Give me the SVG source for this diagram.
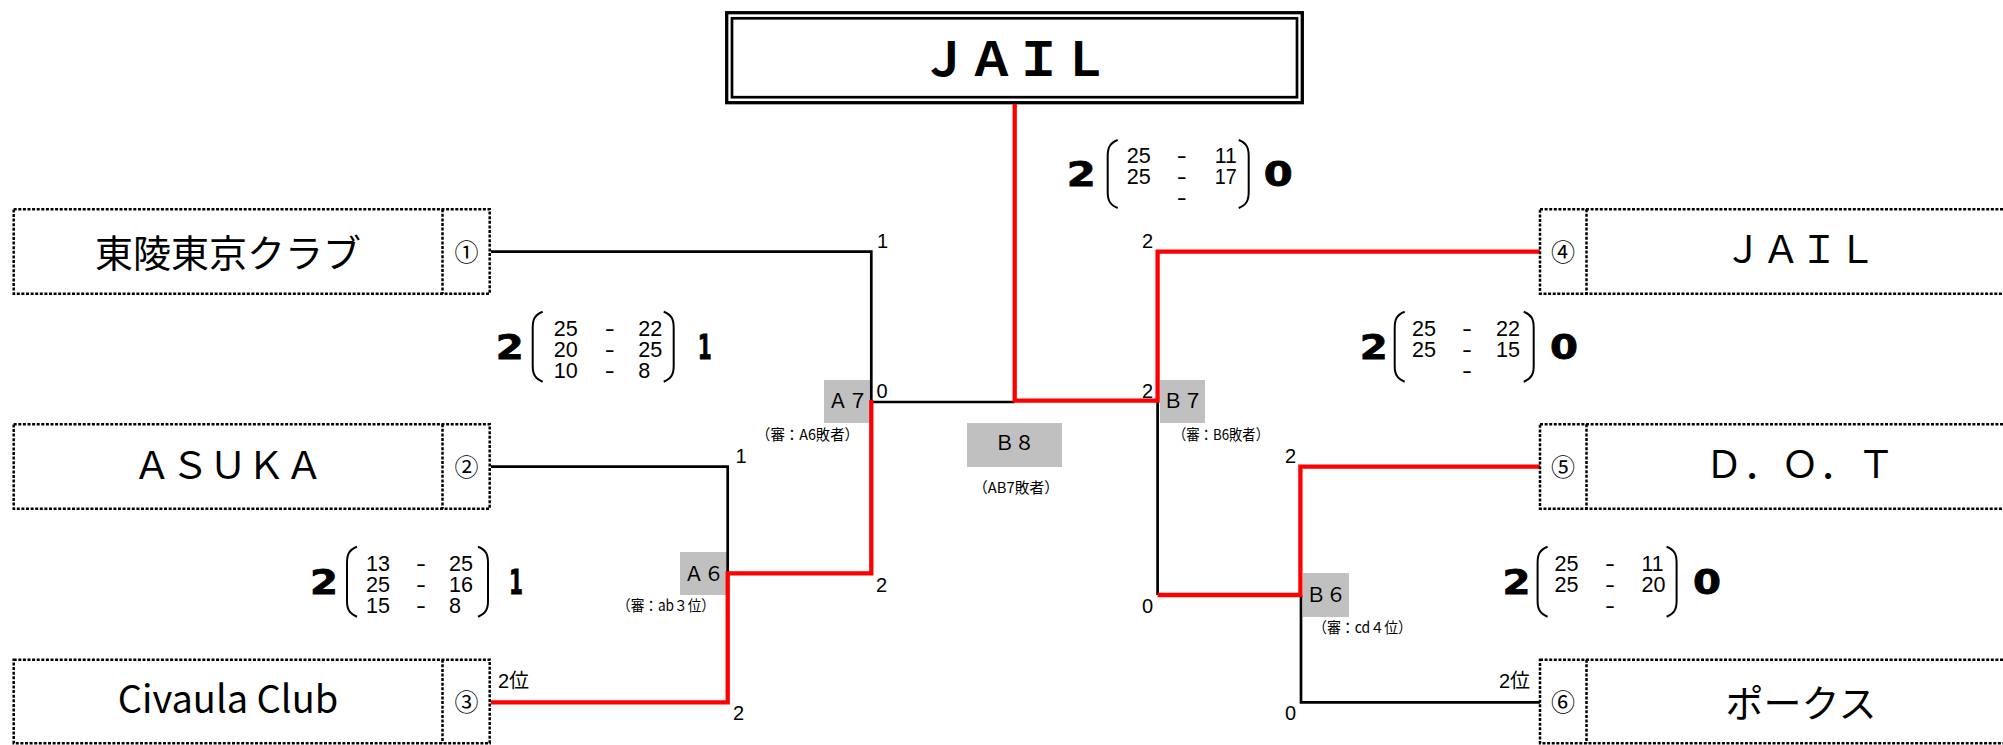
<svg xmlns="http://www.w3.org/2000/svg" width="2003" height="745" viewBox="0 0 2003 745">
<style>
.box{fill:none;stroke:#000;stroke-width:2.5;stroke-dasharray:3 1.6}
.name{font-family:"Noto Sans CJK JP","Noto Sans",sans-serif;font-size:38px;text-anchor:middle;fill:#000}
.title{font-family:"Noto Sans CJK JP","Noto Sans",sans-serif;font-size:47px;font-weight:bold;text-anchor:middle;fill:#000}
.cn{font-family:"Noto Sans CJK JP",sans-serif;font-size:24px;text-anchor:middle}
.lbl{font-family:"Liberation Sans",Arial,sans-serif;font-size:20px}
.pos{font-family:"Liberation Sans","Noto Sans CJK JP",sans-serif;font-size:20px}
.gray{fill:#c0c0c0}
.gt{font-family:"Noto Sans CJK JP",sans-serif;font-size:20px}
.ref{font-family:"Noto Sans CJK JP",sans-serif;font-size:15px}
.sc{font-family:"Liberation Sans",Arial,sans-serif;font-size:22px}
.dash{font-family:"Liberation Sans",Arial,sans-serif;font-size:22px}
.big{font-family:"DejaVu Sans",sans-serif;font-weight:bold;font-size:33px;stroke:#000;stroke-width:0.8}
.br{fill:none;stroke:#000;stroke-width:2}
.blk{fill:none;stroke:#000;stroke-width:2.7}
.red{fill:none;stroke:#ff0000;stroke-width:4.3}
</style>

<!-- champion -->
<g id="champion">
<rect x="726.7" y="12.7" width="575.6" height="90" fill="#fff" stroke="#000" stroke-width="3.3"/>
<rect x="732" y="18.3" width="565" height="78.9" fill="none" stroke="#000" stroke-width="2.7"/>
<text class="title" x="1015" y="76">ＪＡＩＬ</text>
</g>

<!-- gray match boxes -->
<g id="matchA7"><rect class="gray" x="824" y="380" width="46" height="43"/></g>
<g id="matchA6"><rect class="gray" x="680" y="552" width="47" height="43"/></g>
<g id="matchB7"><rect class="gray" x="1160" y="380" width="45" height="43"/></g>
<g id="matchB6"><rect class="gray" x="1303" y="573" width="46" height="44"/></g>
<g id="matchB8"><rect class="gray" x="967" y="423" width="95" height="44"/></g>

<!-- connectors -->
<g id="connectors">
<path class="blk" d="M491,251.7 H871.3 V402 H1014.7"/>
<path class="blk" d="M491,466.7 H727.7 V573.3"/>
<path class="blk" d="M1157.6,402 V595"/>
<path class="blk" d="M1301,595 V702.3 H1540"/>
<path class="red" d="M491,702.3 H727.7 V573.3 H871.3 V400"/>
<path class="red" d="M1014.7,104 V400.7 H1157.6 V251.7 H1540"/>
<path class="red" d="M1540,466.7 H1300.4 V595 H1157.6"/>
</g>

<!-- match labels -->
<g id="labels">
<text class="gt" x="828" y="408.3">Ａ７</text>
<text class="gt" x="684" y="580.5">Ａ６</text>
<text class="gt" x="1163" y="408.3">Ｂ７</text>
<text class="gt" x="1306" y="601.5">Ｂ６</text>
<text class="gt" x="994.5" y="450">Ｂ８</text>
<text class="ref" x="756" y="440" textLength="103" lengthAdjust="spacingAndGlyphs">（審：A6敗者）</text>
<text class="ref" x="617" y="611" textLength="98" lengthAdjust="spacingAndGlyphs">（審：ab３位）</text>
<text class="ref" x="1173" y="440" textLength="96" lengthAdjust="spacingAndGlyphs">（審：B6敗者）</text>
<text class="ref" x="1313" y="633" textLength="99" lengthAdjust="spacingAndGlyphs">（審：cd４位）</text>
<text class="ref" x="973" y="493" textLength="86" lengthAdjust="spacingAndGlyphs">（AB7敗者）</text>
<text class="lbl" x="877" y="248">1</text>
<text class="lbl" x="876.5" y="398.3">0</text>
<text class="lbl" x="735.5" y="463">1</text>
<text class="lbl" x="876" y="591.7">2</text>
<text class="lbl" x="733" y="720">2</text>
<text class="lbl" x="1142" y="248">2</text>
<text class="lbl" x="1142" y="398">2</text>
<text class="lbl" x="1142" y="613.3">0</text>
<text class="lbl" x="1285" y="463">2</text>
<text class="lbl" x="1285" y="720">0</text>
<text class="pos" x="498" y="688">2位</text>
<text class="pos" x="1499" y="688">2位</text>
</g>

<!-- teams left -->
<g id="team1">
<rect class="box" x="13.7" y="209.2" width="476" height="84.5"/>
<line class="box" x1="442.5" y1="209.2" x2="442.5" y2="293.7"/>
<text class="name" x="228" y="267">東陵東京クラブ</text>
<text class="cn" x="466.5" y="260.5">①</text>
</g>
<g id="team2">
<rect class="box" x="13.7" y="424.2" width="476" height="84.5"/>
<line class="box" x1="442.5" y1="424.2" x2="442.5" y2="508.7"/>
<text class="name" x="228" y="479">ＡＳＵＫＡ</text>
<text class="cn" x="466.5" y="475.5">②</text>
</g>
<g id="team3">
<rect class="box" x="13.7" y="659.7" width="476" height="83.5"/>
<line class="box" x1="442.5" y1="659.7" x2="442.5" y2="743.2"/>
<text class="name" x="228" y="713">Civaula Club</text>
<text class="cn" x="466.5" y="711">③</text>
</g>

<!-- teams right -->
<g id="team4">
<rect class="box" x="1540" y="209.2" width="490" height="84.5"/>
<line class="box" x1="1586.5" y1="209.2" x2="1586.5" y2="293.7"/>
<text class="name" x="1800" y="263">ＪＡＩＬ</text>
<text class="cn" x="1563" y="260.5">④</text>
</g>
<g id="team5">
<rect class="box" x="1540" y="424.2" width="490" height="84.5"/>
<line class="box" x1="1586.5" y1="424.2" x2="1586.5" y2="508.7"/>
<text class="name" x="1800" y="478">Ｄ．Ｏ．Ｔ</text>
<text class="cn" x="1563" y="475.5">⑤</text>
</g>
<g id="team6">
<rect class="box" x="1540" y="659.7" width="490" height="83.5"/>
<line class="box" x1="1586.5" y1="659.7" x2="1586.5" y2="743.2"/>
<text class="name" x="1801" y="717">ポークス</text>
<text class="cn" x="1563" y="711">⑥</text>
</g>

<!-- scores -->
<g id="scoreTL" transform="translate(531.7,311.7)">
<text class="big" x="-36" y="47" textLength="28" lengthAdjust="spacingAndGlyphs">2</text>
<path class="br" d="M11,0 C3,3 1,8 1,16 V54 C1,62 3,67 11,70"/>
<path class="br" d="M132,0 C140,3 142,8 142,16 V54 C142,62 140,67 132,70"/>
<text class="sc" x="22" y="24.5" textLength="24" lengthAdjust="spacingAndGlyphs">25</text><text class="dash" x="73" y="24.5" textLength="10" lengthAdjust="spacingAndGlyphs">-</text><text class="sc" x="106.6" y="24.5" textLength="24" lengthAdjust="spacingAndGlyphs">22</text>
<text class="sc" x="22" y="45.5" textLength="24" lengthAdjust="spacingAndGlyphs">20</text><text class="dash" x="73" y="45.5" textLength="10" lengthAdjust="spacingAndGlyphs">-</text><text class="sc" x="106.6" y="45.5" textLength="24" lengthAdjust="spacingAndGlyphs">25</text>
<text class="sc" x="22" y="66.5" textLength="24" lengthAdjust="spacingAndGlyphs">10</text><text class="dash" x="73" y="66.5" textLength="10" lengthAdjust="spacingAndGlyphs">-</text><text class="sc" x="106.6" y="66.5" textLength="12" lengthAdjust="spacingAndGlyphs">8</text>
<text class="big" x="166" y="47" textLength="14" lengthAdjust="spacingAndGlyphs">1</text>
</g>
<g id="scoreBL" transform="translate(346,546.7)">
<text class="big" x="-36" y="47" textLength="28" lengthAdjust="spacingAndGlyphs">2</text>
<path class="br" d="M11,0 C3,3 1,8 1,16 V54 C1,62 3,67 11,70"/>
<path class="br" d="M132,0 C140,3 142,8 142,16 V54 C142,62 140,67 132,70"/>
<text class="sc" x="20" y="24.5" textLength="24" lengthAdjust="spacingAndGlyphs">13</text><text class="dash" x="70" y="24.5" textLength="10" lengthAdjust="spacingAndGlyphs">-</text><text class="sc" x="103" y="24.5" textLength="24" lengthAdjust="spacingAndGlyphs">25</text>
<text class="sc" x="20" y="45.5" textLength="24" lengthAdjust="spacingAndGlyphs">25</text><text class="dash" x="70" y="45.5" textLength="10" lengthAdjust="spacingAndGlyphs">-</text><text class="sc" x="103" y="45.5" textLength="24" lengthAdjust="spacingAndGlyphs">16</text>
<text class="sc" x="20" y="66.5" textLength="24" lengthAdjust="spacingAndGlyphs">15</text><text class="dash" x="70" y="66.5" textLength="10" lengthAdjust="spacingAndGlyphs">-</text><text class="sc" x="103" y="66.5" textLength="12" lengthAdjust="spacingAndGlyphs">8</text>
<text class="big" x="163" y="47" textLength="14" lengthAdjust="spacingAndGlyphs">1</text>
</g>
<g id="scoreTop" transform="translate(1106.7,140)">
<text class="big" x="-40" y="46" textLength="29" lengthAdjust="spacingAndGlyphs">2</text>
<path class="br" d="M11,0 C3,3 1,8 1,16 V52 C1,60 3,65 11,68"/>
<path class="br" d="M132,0 C140,3 142,8 142,16 V52 C142,60 140,65 132,68"/>
<text class="sc" x="20" y="23" textLength="24" lengthAdjust="spacingAndGlyphs">25</text><text class="dash" x="70" y="23" textLength="10" lengthAdjust="spacingAndGlyphs">-</text><text class="sc" x="108" y="23" textLength="22" lengthAdjust="spacingAndGlyphs">11</text>
<text class="sc" x="20" y="44" textLength="24" lengthAdjust="spacingAndGlyphs">25</text><text class="dash" x="70" y="44" textLength="10" lengthAdjust="spacingAndGlyphs">-</text><text class="sc" x="108" y="44" textLength="22" lengthAdjust="spacingAndGlyphs">17</text>
<text class="dash" x="70" y="65" textLength="10" lengthAdjust="spacingAndGlyphs">-</text>
<text class="big" x="157" y="46" textLength="29" lengthAdjust="spacingAndGlyphs">0</text>
</g>
<g id="scoreTR" transform="translate(1393.7,311.7)">
<text class="big" x="-34" y="47" textLength="28" lengthAdjust="spacingAndGlyphs">2</text>
<path class="br" d="M11,0 C3,3 1,8 1,16 V54 C1,62 3,67 11,70"/>
<path class="br" d="M130,0 C138,3 140,8 140,16 V54 C140,62 138,67 130,70"/>
<text class="sc" x="18.3" y="24" textLength="24" lengthAdjust="spacingAndGlyphs">25</text><text class="dash" x="68.3" y="24" textLength="10" lengthAdjust="spacingAndGlyphs">-</text><text class="sc" x="102.3" y="24" textLength="24" lengthAdjust="spacingAndGlyphs">22</text>
<text class="sc" x="18.3" y="45" textLength="24" lengthAdjust="spacingAndGlyphs">25</text><text class="dash" x="68.3" y="45" textLength="10" lengthAdjust="spacingAndGlyphs">-</text><text class="sc" x="102.3" y="45" textLength="24" lengthAdjust="spacingAndGlyphs">15</text>
<text class="dash" x="68.3" y="66" textLength="10" lengthAdjust="spacingAndGlyphs">-</text>
<text class="big" x="156.3" y="47" textLength="28" lengthAdjust="spacingAndGlyphs">0</text>
</g>
<g id="scoreBR" transform="translate(1536.6,546.7)">
<text class="big" x="-34" y="47" textLength="28" lengthAdjust="spacingAndGlyphs">2</text>
<path class="br" d="M11,0 C3,3 1,8 1,16 V54 C1,62 3,67 11,70"/>
<path class="br" d="M130,0 C138,3 140,8 140,16 V54 C140,62 138,67 130,70"/>
<text class="sc" x="17.8" y="24.5" textLength="24" lengthAdjust="spacingAndGlyphs">25</text><text class="dash" x="68.4" y="24.5" textLength="10" lengthAdjust="spacingAndGlyphs">-</text><text class="sc" x="105" y="24.5" textLength="22" lengthAdjust="spacingAndGlyphs">11</text>
<text class="sc" x="17.8" y="45.5" textLength="24" lengthAdjust="spacingAndGlyphs">25</text><text class="dash" x="68.4" y="45.5" textLength="10" lengthAdjust="spacingAndGlyphs">-</text><text class="sc" x="105" y="45.5" textLength="24" lengthAdjust="spacingAndGlyphs">20</text>
<text class="dash" x="68.4" y="66.5" textLength="10" lengthAdjust="spacingAndGlyphs">-</text>
<text class="big" x="156.4" y="47" textLength="28" lengthAdjust="spacingAndGlyphs">0</text>
</g>
</svg>
